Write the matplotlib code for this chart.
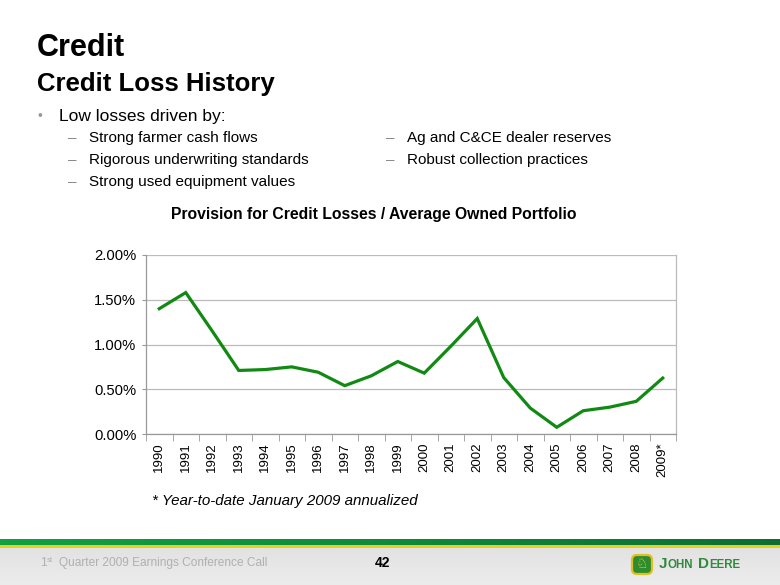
import matplotlib
matplotlib.use("Agg")
import matplotlib.pyplot as plt
import numpy as np
from matplotlib.patches import FancyBboxPatch, Rectangle
from matplotlib.ticker import FuncFormatter, FixedLocator
from matplotlib.colors import LinearSegmentedColormap

plt.rcParams['font.family'] = ['Liberation Sans', 'DejaVu Sans']

years = ["1990", "1991", "1992", "1993", "1994", "1995", "1996", "1997", "1998", "1999",
         "2000", "2001", "2002", "2003", "2004", "2005", "2006", "2007", "2008", "2009*"]
provision_pct = [1.40, 1.58, 1.15, 0.71, 0.72, 0.75, 0.69, 0.54, 0.65, 0.81,
                 0.68, 0.98, 1.29, 0.63, 0.29, 0.075, 0.26, 0.30, 0.365, 0.625]
y_ticks = [0.0, 0.5, 1.0, 1.5, 2.0]

title = "Credit"
subtitle = "Credit Loss History"
bullet = "Low losses driven by:"
left_items = ["Strong farmer cash flows", "Rigorous underwriting standards", "Strong used equipment values"]
right_items = ["Ag and C&CE dealer reserves", "Robust collection practices"]
chart_title = "Provision for Credit Losses / Average Owned Portfolio"
footnote = "* Year-to-date January 2009 annualized"

W, H = 780, 585
fig = plt.figure(figsize=(7.8, 5.85), dpi=100)
fig.patch.set_facecolor("white")

def fx(px):
    return px / W

def fy(py):
    return 1 - py / H

# Titles
fig.text(fx(37), fy(48), title, fontsize=22, fontweight="bold", va="center", ha="left", color="black")
fig.text(fx(37), fy(84), subtitle, fontsize=18.5, fontweight="bold", va="center", ha="left", color="black")
fig.text(fx(38), fy(116), "\u2022", fontsize=10, va="center", ha="left", color="#999999")
fig.text(fx(59), fy(116), bullet, fontsize=12.5, va="center", ha="left", color="black")
for i, t in enumerate(left_items):
    yy = 138 + i * 22
    fig.text(fx(68), fy(yy), "\u2013", fontsize=11, va="center", ha="left", color="#888888")
    fig.text(fx(89), fy(yy), t, fontsize=11, va="center", ha="left", color="black")
for i, t in enumerate(right_items):
    yy = 138 + i * 22
    fig.text(fx(386), fy(yy), "\u2013", fontsize=11, va="center", ha="left", color="#888888")
    fig.text(fx(407), fy(yy), t, fontsize=11, va="center", ha="left", color="black")

fig.text(fx(374), fy(214), chart_title, fontsize=11.3, fontweight="bold", va="center", ha="center", color="black")
fig.text(fx(152), fy(501), footnote, fontsize=10.9, style="italic", va="center", ha="left", color="black")

# Chart
ax = fig.add_axes([fx(146), fy(434), fx(676) - fx(146), (434 - 255) / H])
x = np.arange(len(years))
ax.plot(x, provision_pct, color="#118a14", linewidth=2.3, solid_joinstyle="miter")
ax.set_xlim(-0.5, len(years) - 0.5)
ax.set_ylim(0, 2.0)
ax.yaxis.set_major_locator(FixedLocator(y_ticks))
ax.yaxis.set_major_formatter(FuncFormatter(lambda v, p: f"{v:.2f}%"))
ax.grid(axis="y", color="#bbbbbb", linewidth=0.9)
ax.set_axisbelow(True)
for s in ax.spines.values():
    s.set_color("#999999")
    s.set_linewidth(0.9)
ax.spines["top"].set_visible(False)
ax.spines["right"].set_color("#bbbbbb")
ax.set_xticks(x)
ax.set_xticklabels(years, rotation=90, fontsize=9.5)
ax.set_xticks(np.arange(-0.5, len(years), 1.0), minor=True)
ax.tick_params(axis="x", which="major", length=0, pad=6)
ax.tick_params(axis="x", which="minor", length=5, color="#999999", direction="out")
ax.tick_params(axis="y", length=3, color="#999999", labelsize=10.6, pad=4)

# Footer
fax = fig.add_axes([0, 0, 1, 1], zorder=-1)
fax.axis("off")
grad = np.linspace(0, 1, 256).reshape(1, -1)
gcmap = LinearSegmentedColormap.from_list("g", ["#12a040", "#0f8a3a", "#0d6e30"])
fax.imshow(grad, extent=[0, W, 545, 539], cmap=gcmap, aspect="auto")
fax.add_patch(Rectangle((0, 545), W, 2.5, color="#e6d020", lw=0))
ggrad = np.linspace(0, 1, 64).reshape(-1, 1)
grey = LinearSegmentedColormap.from_list("gr", ["#e2e2e2", "#ececec"])
fax.imshow(ggrad, extent=[0, W, H, 547.5], cmap=grey, aspect="auto")
fax.set_xlim(0, W)
fax.set_ylim(H, 0)
fcol = "#b0b0b0"
fig.text(fx(40), fy(563), "1", fontsize=8.8, color=fcol, va="center", ha="left")
fig.text(fx(46.5), fy(560), "st", fontsize=5.5, color=fcol, va="center", ha="left")
fig.text(fx(59), fy(563), "Quarter 2009 Earnings Conference Call", fontsize=8.6, color=fcol, va="center", ha="left")
fig.text(fx(382), fy(563), "42", fontsize=10, fontweight="bold", color="black", va="center", ha="center")
fax.add_patch(FancyBboxPatch((632, 555), 20, 19, boxstyle="round,pad=0,rounding_size=5",
                             facecolor="#2e8b2e", edgecolor="#e0c020", linewidth=1.6))
fig.text(fx(642), fy(564.5), "\u2658", fontsize=10, color="#f0d020", va="center", ha="center",
         family=["DejaVu Sans"])

# John Deere wordmark, pieces chained by measured width
fig.canvas.draw()
renderer = fig.canvas.get_renderer()
xpos = 659
logo_col = "#2e8b3a"
for piece, size, gap in [("J", 11, 0), ("OHN", 8.3, 4), ("D", 11, 0), ("EERE", 8.3, 0)]:
    t = fig.text(fx(xpos), fy(564 if size > 9 else 565), piece, fontsize=size, fontweight="bold",
                 color=logo_col, va="center", ha="left")
    bb = t.get_window_extent(renderer)
    xpos += bb.width + gap + 0.5

fig.savefig("out.png", dpi=100, facecolor="white")
